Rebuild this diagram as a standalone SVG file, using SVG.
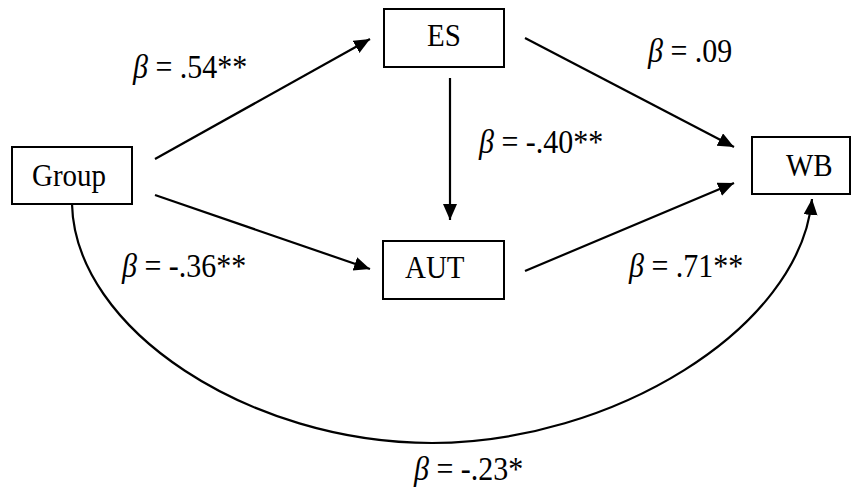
<svg xmlns="http://www.w3.org/2000/svg" width="864" height="502" viewBox="0 0 864 502">
<style>
.box{fill:#fff;stroke:#000;stroke-width:2}
.lbl{font-family:"Liberation Serif","Times New Roman",serif;font-size:29px;fill:#000}
.eq{font-size:30px}
.edge{fill:none;stroke:#000;stroke-width:2.2}
.b{font-style:italic}
</style>
<defs>
<marker id="ah" markerWidth="18" markerHeight="16" refX="16" refY="7" orient="auto" markerUnits="userSpaceOnUse">
<path d="M0,0 L16,7 L0,14 Z" fill="#000"/>
</marker>
</defs>
<rect width="864" height="502" fill="#fff"/>
<g id="connectors">
<line class="edge" x1="155" y1="159" x2="370" y2="39" marker-end="url(#ah)"/>
<line class="edge" x1="155" y1="195" x2="370" y2="269" marker-end="url(#ah)"/>
<line class="edge" x1="450" y1="78" x2="450" y2="220" marker-end="url(#ah)"/>
<line class="edge" x1="525" y1="38" x2="734" y2="147" marker-end="url(#ah)"/>
<line class="edge" x1="525" y1="271" x2="734" y2="183" marker-end="url(#ah)"/>
<path class="edge" d="M72,204 C75,330 250,443 432,443 C610,443 800,330 812,199" marker-end="url(#ah)"/>
</g>
<g id="node-group"><rect class="box" x="12" y="147" width="120" height="57"/><text class="lbl" transform="translate(32,186) scale(1,1.12)">Group</text></g>
<g id="node-es"><rect class="box" x="384" y="9" width="120" height="58"/><text class="lbl" transform="translate(427,46) scale(1,1.12)">ES</text></g>
<g id="node-aut"><rect class="box" x="383" y="241" width="121" height="58"/><text class="lbl" transform="translate(405,278) scale(1,1.12)">AUT</text></g>
<g id="node-wb"><rect class="box" x="752" y="137" width="98" height="57"/><text class="lbl" transform="translate(786,176) scale(1,1.12)">WB</text></g>
<g id="labels">
<text class="lbl eq" transform="translate(133,78) scale(1,1.12)"><tspan class="b">β</tspan> = .54**</text>
<text class="lbl eq" transform="translate(648,62) scale(1,1.12)"><tspan class="b">β</tspan> = .09</text>
<text class="lbl eq" transform="translate(479,153) scale(1,1.12)"><tspan class="b">β</tspan> = -.40**</text>
<text class="lbl eq" transform="translate(122,277) scale(1,1.12)"><tspan class="b">β</tspan> = -.36**</text>
<text class="lbl eq" transform="translate(629,277) scale(1,1.12)"><tspan class="b">β</tspan> = .71**</text>
<text class="lbl eq" transform="translate(414,480) scale(1,1.12)"><tspan class="b">β</tspan> = -.23*</text>
</g>
</svg>
